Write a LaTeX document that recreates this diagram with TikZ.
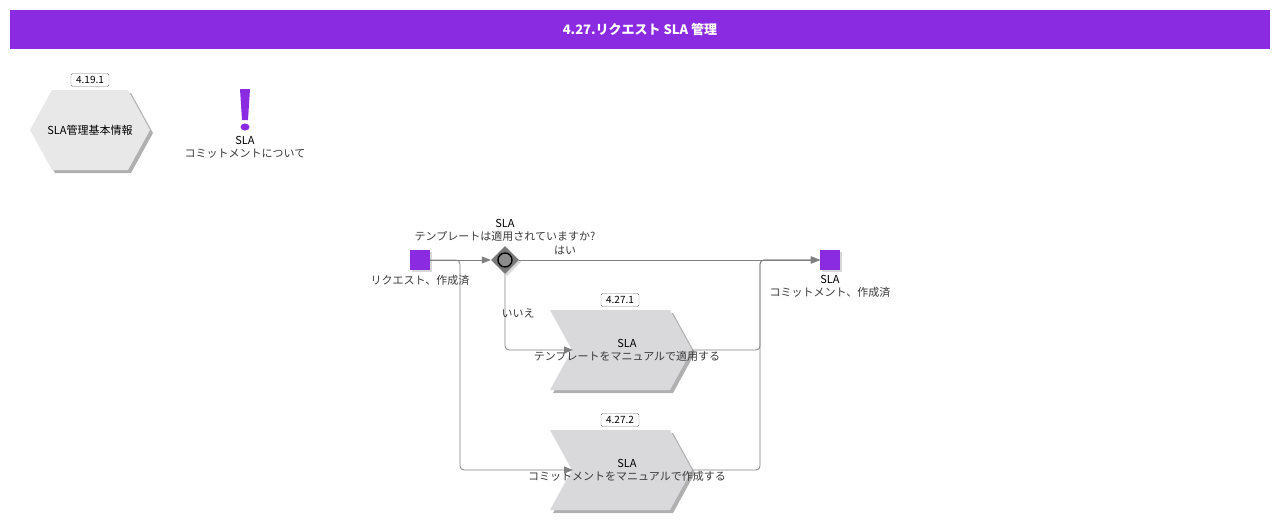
\documentclass[tikz,border=0pt]{standalone}
\usepackage{fontspec}
\setmainfont{Noto Sans CJK JP}
\usetikzlibrary{arrows.meta,shapes.geometric,shadows,positioning}
\definecolor{slapurple}{HTML}{8A2BE2}
\definecolor{linegray}{HTML}{808080}
\definecolor{hexfill}{HTML}{E8E8E8}
\definecolor{taskfill}{HTML}{D9D9DB}
\definecolor{shadowgray}{HTML}{B0B0B0}
\definecolor{txtgray}{HTML}{3A3A3A}
\tikzset{
  flow/.style={draw=linegray, line width=0.8pt, rounded corners=4pt, -{Triangle[length=9pt,width=7pt]}},
  numbox/.style={draw=gray, fill=white, rounded corners=1.5pt, font=\fontsize{10}{11}\selectfont, inner sep=0pt, minimum width=38pt, minimum height=13pt},
  txt/.style={font=\fontsize{11}{13}\selectfont, align=center, inner sep=0pt, text=txtgray},
  event/.style={fill=slapurple, minimum size=20pt, inner sep=0pt, drop shadow={shadow xshift=2pt, shadow yshift=-2pt, fill=shadowgray}},
}
\begin{document}
\begin{tikzpicture}[x=1pt,y=-1pt]
      \useasboundingbox (0,0) rectangle (1280,520);
      % title
      \fill[slapurple] (10,10) rectangle (1270,49);
      \node[font=\fontsize{13}{15}\selectfont\bfseries, text=white] (title) at (640,30) {4.27.リクエスト SLA 管理};
      % linked process
      \fill[shadowgray, shift={(3,3)}] (30,130) -- (52,90) -- (128,90) -- (150,130) -- (128,170) -- (52,170) -- cycle;
      \fill[hexfill] (30,130) -- (52,90) -- (128,90) -- (150,130) -- (128,170) -- (52,170) -- cycle;
      \node[txt, text=black] (hexa) at (90,130) {SLA管理基本情報};
      \node[numbox] (hexanum) at (90,80) {4.19.1};
      % note
      \fill[slapurple] (240,89) -- (250,89) -- (248,120) -- (242,120) -- cycle;
      \fill[slapurple] (245,127) ellipse (4.5 and 3.5);
      \node[txt] (note) at (245,147.5) {\textcolor{black}{SLA}\\コミットメントについて};
      % events and gateway
      \node[event] (start) at (420,260) {};
      \node[txt, below=5pt of start] (startlbl) {リクエスト、作成済};
      \node[event] (end) at (830,260) {};
      \node[txt, below=5pt of end] (endlbl) {\textcolor{black}{SLA}\\コミットメント、作成済};
      \node[diamond, fill=gray!95!black, minimum size=28pt, inner sep=0pt, drop shadow={shadow xshift=2pt, shadow yshift=-2pt, fill=shadowgray}] (gw) at (505,260) {};
      \draw[black, line width=1.4pt, fill=gray!90] (gw.center) circle (7);
      \node[txt, above=4pt of gw] (gwlbl) {\textcolor{black}{SLA}\\テンプレートは適用されていますか?};
      % tasks
      \fill[shadowgray, shift={(3,3)}] (550,310) -- (670,310) -- (692,350) -- (670,390) -- (550,390) -- (572,350) -- cycle;
      \fill[taskfill] (550,310) -- (670,310) -- (692,350) -- (670,390) -- (550,390) -- (572,350) -- cycle;
      \coordinate (t1in) at (573,350);
      \coordinate (t1out) at (692,350);
      \node[numbox] (t1num) at (620,300) {4.27.1};
      \node[txt] (t1) at (627,350.5) {\textcolor{black}{SLA}\\テンプレートをマニュアルで適用する};
      \fill[shadowgray, shift={(3,3)}] (550,430) -- (670,430) -- (692,470) -- (670,510) -- (550,510) -- (572,470) -- cycle;
      \fill[taskfill] (550,430) -- (670,430) -- (692,470) -- (670,510) -- (550,510) -- (572,470) -- cycle;
      \coordinate (t2in) at (573,470);
      \coordinate (t2out) at (692,470);
      \node[numbox] (t2num) at (620,420) {4.27.2};
      \node[txt] (t2) at (627,470.5) {\textcolor{black}{SLA}\\コミットメントをマニュアルで作成する};
      % connectors
      \coordinate (split) at (460,260);
      \coordinate (join) at (760,260);
      \draw[flow] (start.east) -- (gw.west);
      \draw[flow] (start.east) -- (split) |- (t2in);
      \draw[flow] (gw.south) |- (t1in);
      \draw[flow] (gw.east) -- (end.west);
      \draw[flow] (t1out) -| (join) -- (end.west);
      \draw[flow] (t2out) -| (join) -- (end.west);
      \node[txt] (yes) at (565,250) {はい};
      \node[txt] (no) at (518,313) {いいえ};
\end{tikzpicture}
\end{document}
